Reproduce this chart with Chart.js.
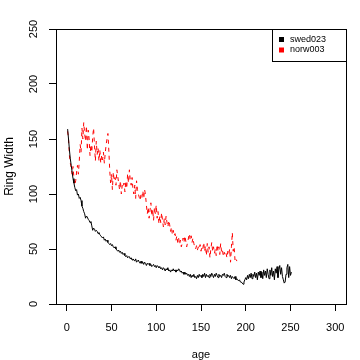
<!DOCTYPE html>
<html>
<head>
<meta charset="utf-8">
<script src="https://cdn.jsdelivr.net/npm/chart.js@4"></script>
<style>
html,body{margin:0;padding:0;background:#fff;}
#wrap{width:360px;height:360px;}
</style>
</head>
<body>
<div id="wrap"><canvas id="c" width="360" height="360"></canvas></div>
<script>
const seriesNames = ["swed023", "norw003"];
const seriesColors = ["#000000", "#ff0000"];
const firstAge = 1;
const xTicks = [0, 50, 100, 150, 200, 250, 300];
const yTicks = [0, 50, 100, 150, 200, 250];

const swed023 = [
159,150,140,132,126,120,114,110,106,103,104,99,100,96,97,94,89,87,84,82,
78,80,79,77,76,74,75,71,67,69,68,66,67,66,64,65,63,62,61,60,
61,58,59,57,58,56,55,54,55,53,54,52,51,52,50,49,48,49,47,48,
46,47,45,46,44,43,44,42,43,43,41,42,40,41,40,39,41,38,39,40,
38,37,39,37,38,36,38,37,35,37,36,37,35,36,34,35,36,34,35,33,
35,34,33,34,32,33,31,33,32,30,32,31,33,30,31,29,31,30,32,30,
31,29,31,30,32,31,29,30,28,29,27,29,27,28,26,27,25,27,24,26,
25,27,24,25,23,26,24,27,25,26,24,27,25,28,24,27,25,26,24,27,
25,28,26,24,27,25,28,26,24,27,25,26,24,27,26,28,25,24,27,25,
26,24,26,23,25,24,23,25,22,23,22,21,22,20,20,19,18,20,22,24,
22,26,23,27,24,28,23,27,25,29,24,28,22,29,26,30,24,29,23,31,
26,30,24,32,27,23,31,26,33,25,30,22,32,28,34,24,31,35,27,33,
25,22,19,20,27,33,36,24,34,26,29
];

const norw003 = [
157,150,135,128,124,118,125,115,108,112,120,126,118,130,145,138,160,150,165,155,
148,162,140,158,150,135,145,138,152,160,144,130,148,136,142,130,140,128,135,131,
138,128,137,145,150,155,140,122,110,118,104,120,112,115,108,122,116,110,104,112,
100,108,106,110,102,112,105,118,110,122,112,108,115,104,100,108,96,112,104,100,
97,94,100,97,103,96,104,99,90,82,88,78,85,92,80,86,76,88,82,90,
78,84,73,80,74,83,76,70,78,72,80,74,70,76,72,66,70,63,67,62,
64,58,62,56,60,54,58,52,55,60,56,62,57,52,56,60,64,58,62,56,
60,55,52,50,53,49,52,50,54,48,52,50,56,48,53,44,55,47,52,42,
50,56,48,52,46,50,44,54,48,52,45,55,47,49,43,47,44,46,42,48,
45,50,38,52,65,48,52,40,42,39
];

const toPoints = arr => arr.map((v, i) => ({x: firstAge + i, y: v}));

const FONT = '"Liberation Sans", Arial, sans-serif';

const boxPlugin = {
  id: 'rbox',
  afterDraw(chart) {
    const {ctx, chartArea: a, scales} = chart;
    const y = scales.y;
    ctx.save();
    ctx.strokeStyle = '#000';
    ctx.lineWidth = 1;
    const L = Math.round(a.left) + 0.5, T = Math.round(a.top) + 0.5;
    const R = Math.round(a.right) + 0.5, B = Math.round(a.bottom) + 0.5;
    ctx.strokeRect(L, T, R - L, B - T);
    // rotated y tick labels (R style)
    ctx.fillStyle = '#000';
    ctx.font = '11px ' + FONT;
    ctx.textAlign = 'center';
    ctx.textBaseline = 'middle';
    y.ticks.forEach(t => {
      const py = y.getPixelForValue(t.value);
      ctx.save();
      ctx.translate(a.left - 22, py);
      ctx.rotate(-Math.PI / 2);
      ctx.fillText(String(t.value), 0, 0);
      ctx.restore();
    });
    // legend
    const lx = 272.5, ly = T, lw = R - lx, lh = 32;
    ctx.fillStyle = '#fff';
    ctx.fillRect(lx, ly, lw, lh);
    ctx.strokeRect(lx, ly, lw, lh);
    ctx.font = '9px ' + FONT;
    ctx.textAlign = 'left';
    chart.data.datasets.forEach((ds, i) => {
      const cy = 39.5 + i * 10.5;
      ctx.fillStyle = ds.borderColor;
      ctx.fillRect(279, cy - 2.5, 5, 5);
      ctx.fillStyle = '#000';
      ctx.fillText(ds.label, 290, cy);
    });
    ctx.restore();
  }
};

new Chart(document.getElementById('c'), {
  type: 'line',
  data: {
    datasets: [
      {label: seriesNames[0], data: toPoints(swed023), borderColor: seriesColors[0], borderWidth: 1, pointRadius: 0, tension: 0, fill: false},
      {label: seriesNames[1], data: toPoints(norw003), borderColor: seriesColors[1], borderWidth: 1, borderDash: [4, 4], pointRadius: 0, tension: 0, fill: false}
    ]
  },
  options: {
    responsive: false,
    animation: false,
    devicePixelRatio: 1,
    layout: {padding: {top: 29, right: 14, left: 0, bottom: 0}},
    plugins: {legend: {display: false}, tooltip: {enabled: false}},
    scales: {
      x: {
        type: 'linear', min: -12, max: 312,
        afterBuildTicks: s => { s.ticks = xTicks.map(v => ({value: v})); },
        afterFit: s => { s.height = 56; },
        grid: {drawOnChartArea: false, drawTicks: true, tickLength: 7, color: '#000', lineWidth: 1},
        border: {display: true, color: '#000', width: 1},
        ticks: {color: '#000', font: {family: FONT, size: 11}, padding: 10, maxRotation: 0, autoSkip: false},
        title: {display: true, text: 'age', color: '#000', font: {family: FONT, size: 11, lineHeight: 1}, padding: {top: 0, bottom: 0}}
      },
      y: {
        type: 'linear', min: 0, max: 250,
        afterBuildTicks: s => { s.ticks = yTicks.map(v => ({value: v})); },
        afterFit: s => { s.width = 56; },
        grid: {drawOnChartArea: false, drawTicks: true, tickLength: 7, color: '#000', lineWidth: 1},
        border: {display: true, color: '#000', width: 1},
        ticks: {display: false},
        title: {display: true, text: 'Ring Width', color: '#000', font: {family: FONT, size: 12, lineHeight: 1.2}, padding: {top: 2, bottom: 0}}
      }
    }
  },
  plugins: [boxPlugin]
});
</script>
</body>
</html>
